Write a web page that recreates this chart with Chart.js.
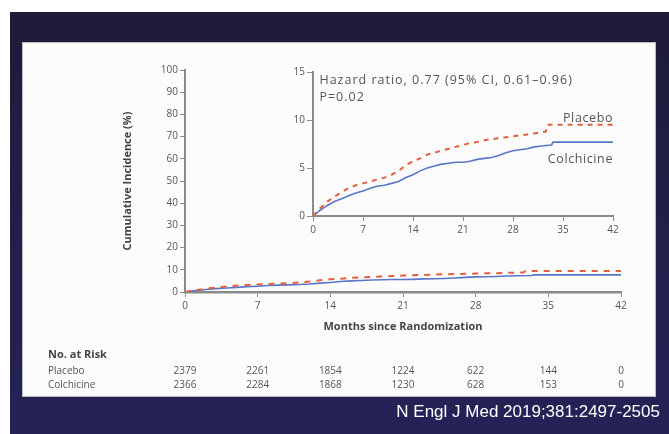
<!DOCTYPE html>
<html>
<head>
<meta charset="utf-8">
<script src="https://cdn.jsdelivr.net/npm/chart.js@4"></script>
<style>
    html, body { margin: 0; padding: 0; }
    body { width: 669px; height: 434px; position: relative; background: #ffffff; overflow: hidden; }
    #navy { position: absolute; left: 10px; top: 12px; right: 0; bottom: 0; background: linear-gradient(#1e1c38, #252258); }
    #panel { position: absolute; left: 22px; top: 42px; width: 634px; height: 355px; background: #fcfcfc; border: 1px solid #bbb; box-sizing: border-box; }
    #main { position: absolute; left: 0; top: 0; }
    #inset { position: absolute; left: 260px; top: 55px; }
    #source { position: absolute; right: 9px; top: 402px; color: #ffffff; font: 17px "Liberation Sans", Arial, sans-serif; }
</style>
</head>
<body>
<div id="navy"></div>
<div id="panel"></div>
<canvas id="main" width="669" height="434"></canvas>
<canvas id="inset" width="370" height="195"></canvas>
<div id="source">N Engl J Med 2019;381:2497-2505</div>
<script>
// Kaplan-Meier: months and cumulative incidence (%)
const placeboMonths = [0, 1, 2, 3, 4, 5, 6, 7, 8, 9, 10, 11, 12, 13, 14, 15, 16, 17, 18, 19, 20, 21, 22, 23, 24, 25, 26, 27, 28, 29, 30, 31, 32.6, 32.8, 42];
const placeboPct = [0, 0.8, 1.5, 2.0, 2.5, 2.9, 3.2, 3.4, 3.6, 3.8, 4.0, 4.3, 4.7, 5.3, 5.7, 6.0, 6.4, 6.6, 6.8, 7.0, 7.2, 7.4, 7.6, 7.7, 7.9, 8.0, 8.1, 8.2, 8.3, 8.4, 8.5, 8.6, 8.8, 9.5, 9.5];
const colchicineMonths = [0, 1, 2, 3, 4, 5, 6, 7, 8, 9, 10, 11, 12, 13, 14, 15, 16, 17, 18, 19, 20, 21, 22, 23, 24, 25, 26, 27, 28, 29, 30, 31, 32, 33.4, 33.6, 42];
const colchicinePct = [0, 0.6, 1.1, 1.5, 1.8, 2.1, 2.4, 2.6, 2.9, 3.1, 3.2, 3.4, 3.6, 4.0, 4.3, 4.7, 5.0, 5.2, 5.4, 5.5, 5.6, 5.6, 5.7, 5.9, 6.0, 6.1, 6.3, 6.6, 6.8, 6.9, 7.0, 7.2, 7.3, 7.4, 7.7, 7.7];

// No. at risk table
const riskMonths = [0, 7, 14, 21, 28, 35, 42];
const placeboAtRisk = [2379, 2261, 1854, 1224, 622, 144, 0];
const colchicineAtRisk = [2366, 2284, 1868, 1230, 628, 153, 0];

const hazardText = "Hazard ratio, 0.77 (95% CI, 0.61\u20130.96)";
const pText = "P=0.02";

const FONT = "'Open Sans', 'DejaVu Sans', sans-serif";
const TEXT = "#555";
const AXIS = "#8a8a8a";
const RED = "#e0603f";
const BLUE = "#5a76c8";

function toPoints(xs, ys) {
    return xs.map((x, i) => ({ x: x, y: ys[i] }));
}

function datasets(dashW) {
    return [
        {
            label: "Placebo",
            data: toPoints(placeboMonths, placeboPct),
            borderColor: RED,
            borderWidth: 2,
            borderDash: [dashW, dashW],
            tension: 0,
            pointRadius: 0
        },
        {
            label: "Colchicine",
            data: toPoints(colchicineMonths, colchicinePct),
            borderColor: BLUE,
            borderWidth: 1.6,
            tension: 0,
            pointRadius: 0
        }
    ];
}

Chart.defaults.font.family = FONT;
Chart.defaults.color = TEXT;

// Таблиця "No. at Risk" під головним графіком
const riskTable = {
    id: "riskTable",
    afterDraw(chart) {
        const ctx = chart.ctx;
        const xs = chart.scales.x;
        ctx.save();
        ctx.fillStyle = "#444";
        ctx.textBaseline = "middle";
        ctx.textAlign = "left";
        ctx.font = "bold 11px " + FONT;
        ctx.fillText("No. at Risk", 48, 355);
        ctx.font = "10px " + FONT;
        ctx.fillStyle = TEXT;
        ctx.fillText("Placebo", 48, 371);
        ctx.fillText("Colchicine", 48, 385);
        ctx.textAlign = "center";
        riskMonths.forEach((m, i) => {
            const px = xs.getPixelForValue(m);
            ctx.fillText(String(placeboAtRisk[i]), px, 371);
            ctx.fillText(String(colchicineAtRisk[i]), px, 385);
        });
        ctx.restore();
    }
};

new Chart(document.getElementById("main"), {
    type: "line",
    data: { datasets: datasets(6) },
    options: {
        responsive: false,
        animation: false,
        layout: { padding: { left: 110, top: 70, right: 48, bottom: 97 } },
        plugins: { legend: { display: false }, tooltip: { enabled: false } },
        scales: {
            x: {
                type: "linear",
                min: 0,
                max: 42,
                afterFit: s => { s.height = 45; },
                ticks: { stepSize: 7, font: { size: 10 }, padding: 3, maxRotation: 0 },
                grid: { drawOnChartArea: false, tickLength: 5, color: AXIS },
                border: { color: AXIS, width: 2.5 },
                title: { display: true, text: "Months since Randomization", font: { size: 11, weight: "bold" }, color: "#444", padding: { top: 2, bottom: 4 } }
            },
            y: {
                min: 0,
                max: 100,
                afterFit: s => { s.width = 75; },
                ticks: { stepSize: 10, font: { size: 10 }, padding: 2 },
                grid: { drawOnChartArea: false, tickLength: 5, color: AXIS },
                border: { color: AXIS, width: 2 },
                title: { display: true, text: "Cumulative Incidence (%)", font: { size: 11, weight: "bold" }, color: "#444", padding: { top: 11, bottom: 0 } }
            }
        }
    },
    plugins: [riskTable]
});

// Підписи у вкладці
const insetLabels = {
    id: "insetLabels",
    afterDatasetsDraw(chart) {
        const ctx = chart.ctx;
        const xs = chart.scales.x;
        const ys = chart.scales.y;
        ctx.save();
        ctx.fillStyle = TEXT;
        ctx.font = "12.5px " + FONT;
        ctx.letterSpacing = "1px";
        ctx.textBaseline = "middle";
        ctx.textAlign = "left";
        ctx.fillText(hazardText, xs.getPixelForValue(0.9), ys.getPixelForValue(14.1));
        ctx.fillText(pText, xs.getPixelForValue(0.9), ys.getPixelForValue(12.3));
        ctx.textAlign = "right";
        ctx.letterSpacing = "0.6px";
        ctx.fillText("Placebo", xs.getPixelForValue(42), ys.getPixelForValue(10.2));
        ctx.fillText("Colchicine", xs.getPixelForValue(42), ys.getPixelForValue(5.9));
        ctx.restore();
    }
};

new Chart(document.getElementById("inset"), {
    type: "line",
    data: { datasets: datasets(5) },
    options: {
        responsive: false,
        animation: false,
        layout: { padding: { left: 0, top: 17, right: 17, bottom: 0 } },
        plugins: { legend: { display: false }, tooltip: { enabled: false } },
        scales: {
            x: {
                type: "linear",
                min: 0,
                max: 42,
                afterFit: s => { s.height = 34; },
                ticks: { stepSize: 7, font: { size: 10 }, padding: 3, maxRotation: 0 },
                grid: { drawOnChartArea: false, tickLength: 5, color: AXIS },
                border: { color: AXIS, width: 2 }
            },
            y: {
                min: 0,
                max: 15,
                afterFit: s => { s.width = 53; },
                ticks: { stepSize: 5, font: { size: 10 }, padding: 2 },
                grid: { drawOnChartArea: false, tickLength: 6, color: AXIS },
                border: { color: AXIS, width: 2 }
            }
        }
    },
    plugins: [insetLabels]
});
</script>
</body>
</html>
